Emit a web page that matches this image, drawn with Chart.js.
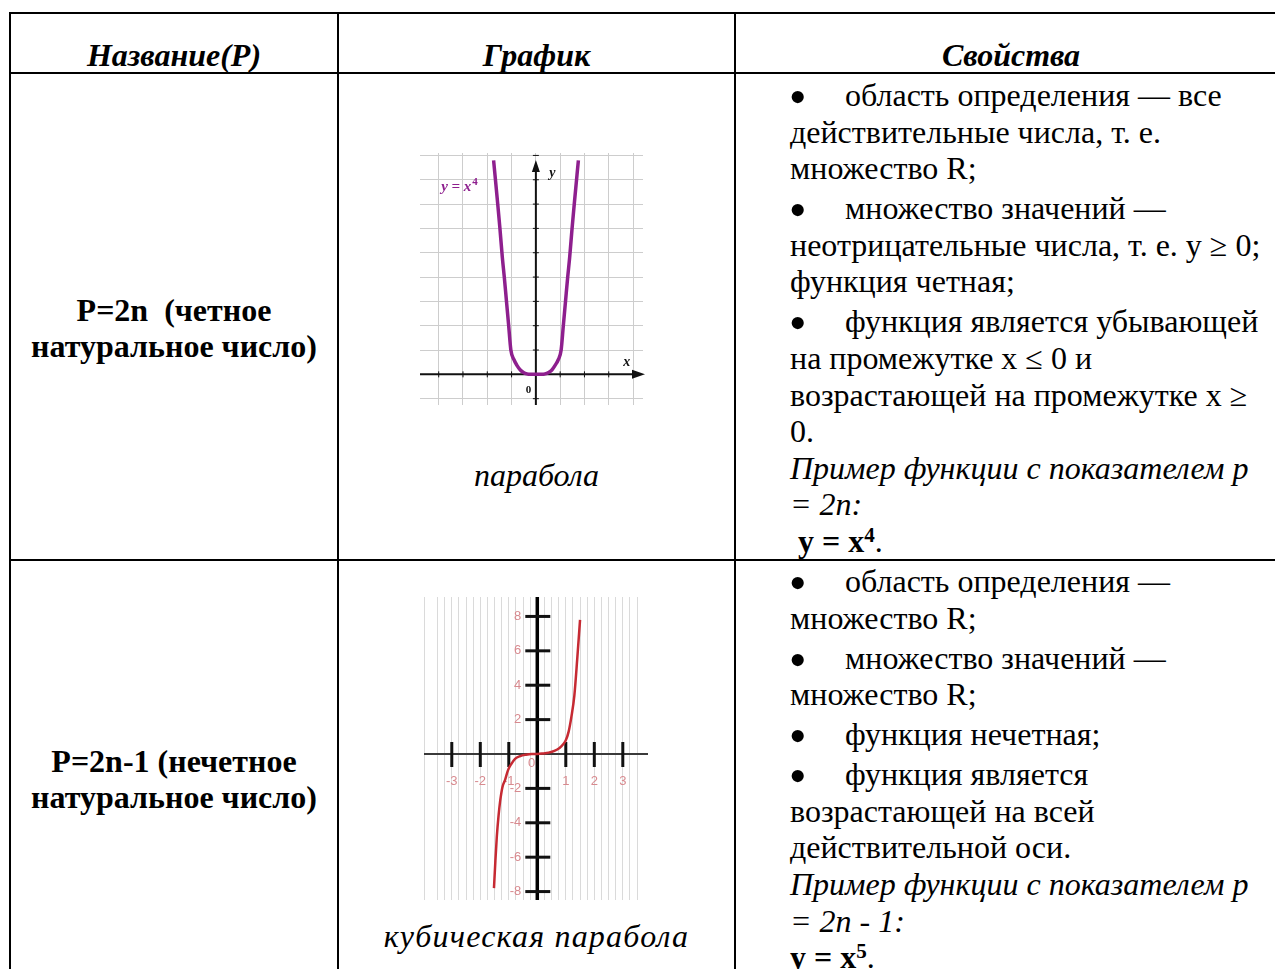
<!DOCTYPE html>
<html lang="ru">
<head>
<meta charset="utf-8">
<title>Степенная функция с натуральным показателем</title>
<script src="https://cdn.jsdelivr.net/npm/chart.js@4.4.1/dist/chart.umd.min.js"></script>
<style>
  html, body { margin: 0; padding: 0; background: #fff; }
  #page {
    position: relative; width: 1275px; height: 969px; overflow: hidden;
    font-family: "Liberation Serif", "Times New Roman", serif;
    font-size: 32px; line-height: 36.6px; color: #000;
  }
  .ln { position: absolute; background: #000; }
  .t { position: absolute; white-space: nowrap; }
  .c { text-align: center; }
  .hd { font-weight: bold; font-style: italic; }
  .nm { font-weight: bold; }
  .p + .p { margin-top: 3.4px; }
  .bl { display: inline-block; width: 55px; }
  .bl b { display: inline-block; font-weight: normal; line-height: 12px; transform: translate(2px, 1px) scale(1.6); }
  .sp { position: relative; top: -0.48em; font-size: 0.66em; line-height: 0; }
  .chart { position: absolute; }
</style>
</head>
<body>
<div id="page">
  <!-- рамка таблицы -->
  <div class="ln" style="left:9px;top:12px;width:1300px;height:2px"></div>
  <div class="ln" style="left:9px;top:72px;width:1300px;height:2px"></div>
  <div class="ln" style="left:9px;top:559px;width:1300px;height:2px"></div>
  <div class="ln" style="left:9px;top:12px;width:2px;height:1000px"></div>
  <div class="ln" style="left:337px;top:12px;width:2px;height:1000px"></div>
  <div class="ln" style="left:734px;top:12px;width:2px;height:1000px"></div>

  <!-- шапка -->
  <div class="t c hd" style="left:11px;width:326px;top:37px">Название(P)</div>
  <div class="t c hd" style="left:339px;width:395px;top:37px">График</div>
  <div class="t c hd" style="left:736px;width:550px;top:37px">Свойства</div>

  <!-- строка 1 -->
  <div class="t c nm" style="left:11px;width:326px;top:291.5px">P=2n&nbsp; (четное<br>натуральное число)</div>
  <div class="chart" style="left:418px;top:148px;width:232px;height:260px"><canvas id="quart"></canvas></div>
  <div class="t c" style="left:339px;width:395px;top:457px"><i>парабола</i></div>
  <div class="t" style="left:790px;top:77px">
    <div class="p"><span class="bl"><b>•</b></span>область определения — все<br>действительные числа, т. е.<br>множество R;</div>
    <div class="p"><span class="bl"><b>•</b></span>множество значений —<br>неотрицательные числа, т. е. y ≥ 0;<br>функция четная;</div>
    <div class="p"><span class="bl"><b>•</b></span>функция является убывающей<br>на промежутке x ≤ 0 и<br>возрастающей на промежутке x ≥<br>0.</div>
    <div><i>Пример функции с показателем р<br>= 2n:</i><br><b>&nbsp;y = x<span class="sp">4</span></b>.</div>
  </div>

  <!-- строка 2 -->
  <div class="t c nm" style="left:11px;width:326px;top:742.5px">P=2n-1 (нечетное<br>натуральное число)</div>
  <div class="chart" style="left:424px;top:597px;width:224px;height:303px"><canvas id="quint"></canvas></div>
  <div class="t c" style="left:339px;width:395px;top:918px;letter-spacing:1.2px"><i>кубическая парабола</i></div>
  <div class="t" style="left:790px;top:563px">
    <div class="p"><span class="bl"><b>•</b></span>область определения —<br>множество R;</div>
    <div class="p"><span class="bl"><b>•</b></span>множество значений —<br>множество R;</div>
    <div class="p"><span class="bl"><b>•</b></span>функция нечетная;</div>
    <div class="p"><span class="bl"><b>•</b></span>функция является<br>возрастающей на всей<br>действительной оси.</div>
    <div><i>Пример функции с показателем р<br>= 2n - 1:</i><br><b>y = x<span class="sp">5</span></b>.</div>
  </div>
</div>

<script>
// y = x^4 — точки
const quartX = [-1.74, -1.57, -1.48, -1.38, -1.3, -1.21, -1.12, -1.03, -0.9, -0.78, -0.64, -0.51, -0.37, -0.23, 0,
  0.25, 0.38, 0.52, 0.66, 0.79, 0.92, 1.04, 1.13, 1.22, 1.31, 1.39, 1.49, 1.58, 1.75]
const quartY = [8.8, 7.0, 6.0, 4.8, 4.0, 3.0, 2.0, 1.0, 0.6, 0.37, 0.18, 0.08, 0.02, 0, 0,
  0, 0.02, 0.08, 0.18, 0.37, 0.6, 1.0, 2.0, 3.0, 4.0, 4.8, 6.0, 7.0, 8.8]
const quartGridX = [-4, -3, -2, -1, 0, 1, 2, 3, 4]
const quartGridY = [-1, 0, 1, 2, 3, 4, 5, 6, 7, 8, 9]

// y = x^5 — точки
const quintX = [-1.52, -1.47, -1.42, -1.36, -1.3, -1.22, -1.13, -1.03, -0.92, -0.78, -0.6, -0.4, -0.2, 0,
  0.2, 0.4, 0.6, 0.78, 0.9, 1.0, 1.1, 1.2, 1.3, 1.4, 1.5]
const quintY = [-7.8, -6.2, -4.8, -3.6, -2.7, -1.9, -1.5, -0.95, -0.6, -0.28, -0.12, -0.04, 0, 0,
  0.03, 0.08, 0.18, 0.35, 0.55, 0.8, 1.3, 2.2, 3.4, 5.5, 7.8]
const quintTicksX = [-3, -2, -1, 1, 2, 3]
const quintTicksY = [-8, -6, -4, -2, 2, 4, 6, 8]

const serif = "'Liberation Serif', 'Times New Roman', serif"
const sans = "'Liberation Sans', Arial, sans-serif"
const tickPink = "#d88a8f"

// оси со стрелками для параболы
const quartAxes = {
  id: "quartAxes",
  beforeDatasetsDraw(chart) {
    const { ctx, scales: { x, y }, chartArea } = chart
    const x0 = x.getPixelForValue(0)
    const y0 = y.getPixelForValue(0)
    ctx.save()
    ctx.strokeStyle = "#111"
    ctx.fillStyle = "#111"
    ctx.lineWidth = 2
    // ось x
    ctx.beginPath()
    ctx.moveTo(chartArea.left, y0)
    ctx.lineTo(chartArea.right - 8, y0)
    ctx.stroke()
    ctx.beginPath()
    ctx.moveTo(chartArea.right + 2, y0)
    ctx.lineTo(chartArea.right - 11, y0 - 4.5)
    ctx.lineTo(chartArea.right - 11, y0 + 4.5)
    ctx.closePath()
    ctx.fill()
    // ось y
    const yTip = chartArea.top + 7
    ctx.beginPath()
    ctx.moveTo(x0, chartArea.bottom)
    ctx.lineTo(x0, yTip + 8)
    ctx.stroke()
    ctx.beginPath()
    ctx.moveTo(x0, yTip)
    ctx.lineTo(x0 - 4, yTip + 12)
    ctx.lineTo(x0 + 4, yTip + 12)
    ctx.closePath()
    ctx.fill()
    // засечки
    ctx.lineWidth = 1
    quartGridX.forEach(v => {
      if (v === 0) return
      const px = x.getPixelForValue(v)
      ctx.beginPath()
      ctx.moveTo(px, y0 - 3)
      ctx.lineTo(px, y0 + 3)
      ctx.stroke()
    })
    quartGridY.forEach(v => {
      if (v === 0) return
      const py = y.getPixelForValue(v)
      ctx.beginPath()
      ctx.moveTo(x0 - 3, py)
      ctx.lineTo(x0 + 3, py)
      ctx.stroke()
    })
    ctx.restore()
  },
  afterDatasetsDraw(chart) {
    const { ctx, scales: { x, y } } = chart
    ctx.save()
    ctx.textBaseline = "alphabetic"
    ctx.fillStyle = "#111"
    ctx.font = "italic bold 14px " + serif
    ctx.fillText("y", x.getPixelForValue(0.55), y.getPixelForValue(8.1))
    ctx.fillText("x", x.getPixelForValue(3.6), y.getPixelForValue(0.35))
    ctx.font = "bold 11px " + serif
    ctx.fillText("0", x.getPixelForValue(-0.42), y.getPixelForValue(-0.75))
    // подпись кривой
    ctx.fillStyle = "#8e1f8e"
    ctx.font = "italic bold 15px " + serif
    const lx = x.getPixelForValue(-3.9)
    const ly = y.getPixelForValue(7.55)
    ctx.fillText("y = x", lx, ly)
    const w = ctx.measureText("y = x").width
    ctx.font = "bold 11px " + serif
    ctx.fillText("4", lx + w + 1, ly - 6)
    ctx.restore()
  },
}

// оси, крупные засечки и подписи для кубической параболы
const quintAxes = {
  id: "quintAxes",
  beforeDatasetsDraw(chart) {
    const { ctx, scales: { x, y }, chartArea } = chart
    const x0 = x.getPixelForValue(0)
    const y0 = y.getPixelForValue(0)
    ctx.save()
    // ось x
    ctx.strokeStyle = "#3a3a3a"
    ctx.lineWidth = 2
    ctx.beginPath()
    ctx.moveTo(chartArea.left, y0)
    ctx.lineTo(chartArea.right, y0)
    ctx.stroke()
    // ось y
    ctx.strokeStyle = "#000"
    ctx.lineWidth = 3.5
    ctx.beginPath()
    ctx.moveTo(x0, chartArea.top)
    ctx.lineTo(x0, chartArea.bottom)
    ctx.stroke()
    // засечки
    ctx.strokeStyle = "#111"
    ctx.lineWidth = 3
    quintTicksX.forEach(v => {
      const px = x.getPixelForValue(v)
      ctx.beginPath()
      ctx.moveTo(px, y0 - 12)
      ctx.lineTo(px, y0 + 13)
      ctx.stroke()
    })
    quintTicksY.forEach(v => {
      const py = y.getPixelForValue(v)
      ctx.beginPath()
      ctx.moveTo(x0 - 12, py)
      ctx.lineTo(x0 + 13, py)
      ctx.stroke()
    })
    // подписи делений
    ctx.fillStyle = tickPink
    ctx.font = "13px " + sans
    ctx.textBaseline = "middle"
    ctx.textAlign = "center"
    quintTicksX.forEach(v => {
      ctx.fillText(String(v), x.getPixelForValue(v), y0 + 27)
    })
    ctx.fillText("0", x.getPixelForValue(-0.2), y.getPixelForValue(-0.52))
    ctx.textAlign = "right"
    quintTicksY.forEach(v => {
      ctx.fillText(String(v), x0 - 16, y.getPixelForValue(v))
    })
    ctx.restore()
  },
}

new Chart(document.getElementById("quart"), {
  type: "scatter",
  data: {
    datasets: [
      {
        data: quartX.map((v, i) => ({ x: v, y: quartY[i] })),
        showLine: true,
        borderColor: "#8e1f8e",
        borderWidth: 3.5,
        pointRadius: 0,
        cubicInterpolationMode: "monotone",
      },
    ],
  },
  options: {
    animation: false,
    responsive: true,
    maintainAspectRatio: false,
    events: [],
    layout: { padding: { left: 2, top: 5, right: 7, bottom: 3 } },
    plugins: { legend: { display: false }, tooltip: { enabled: false } },
    scales: {
      x: {
        type: "linear",
        min: -4.77,
        max: 4.41,
        afterBuildTicks: s => {
          s.ticks = quartGridX.map(v => ({ value: v }))
        },
        ticks: { display: false },
        grid: { color: "#cdcdcd", drawTicks: false },
        border: { display: false },
      },
      y: {
        type: "linear",
        min: -1.26,
        max: 9.1,
        afterBuildTicks: s => {
          s.ticks = quartGridY.map(v => ({ value: v }))
        },
        ticks: { display: false },
        grid: { color: "#cdcdcd", drawTicks: false },
        border: { display: false },
      },
    },
  },
  plugins: [quartAxes],
})

new Chart(document.getElementById("quint"), {
  type: "scatter",
  data: {
    datasets: [
      {
        data: quintX.map((v, i) => ({ x: v, y: quintY[i] })),
        showLine: true,
        borderColor: "#c62a33",
        borderWidth: 2.5,
        pointRadius: 0,
        cubicInterpolationMode: "monotone",
      },
    ],
  },
  options: {
    animation: false,
    responsive: true,
    maintainAspectRatio: false,
    events: [],
    layout: { padding: 0 },
    plugins: { legend: { display: false }, tooltip: { enabled: false } },
    scales: {
      x: {
        type: "linear",
        min: -3.975,
        max: 3.884,
        ticks: { display: false, stepSize: 0.25 },
        grid: { color: "rgba(140,140,140,0.32)", drawTicks: false },
        border: { display: false },
      },
      y: {
        type: "linear",
        min: -8.49,
        max: 9.13,
        ticks: { display: false },
        grid: { display: false, drawTicks: false },
        border: { display: false },
      },
    },
  },
  plugins: [quintAxes],
})
</script>
</body>
</html>
